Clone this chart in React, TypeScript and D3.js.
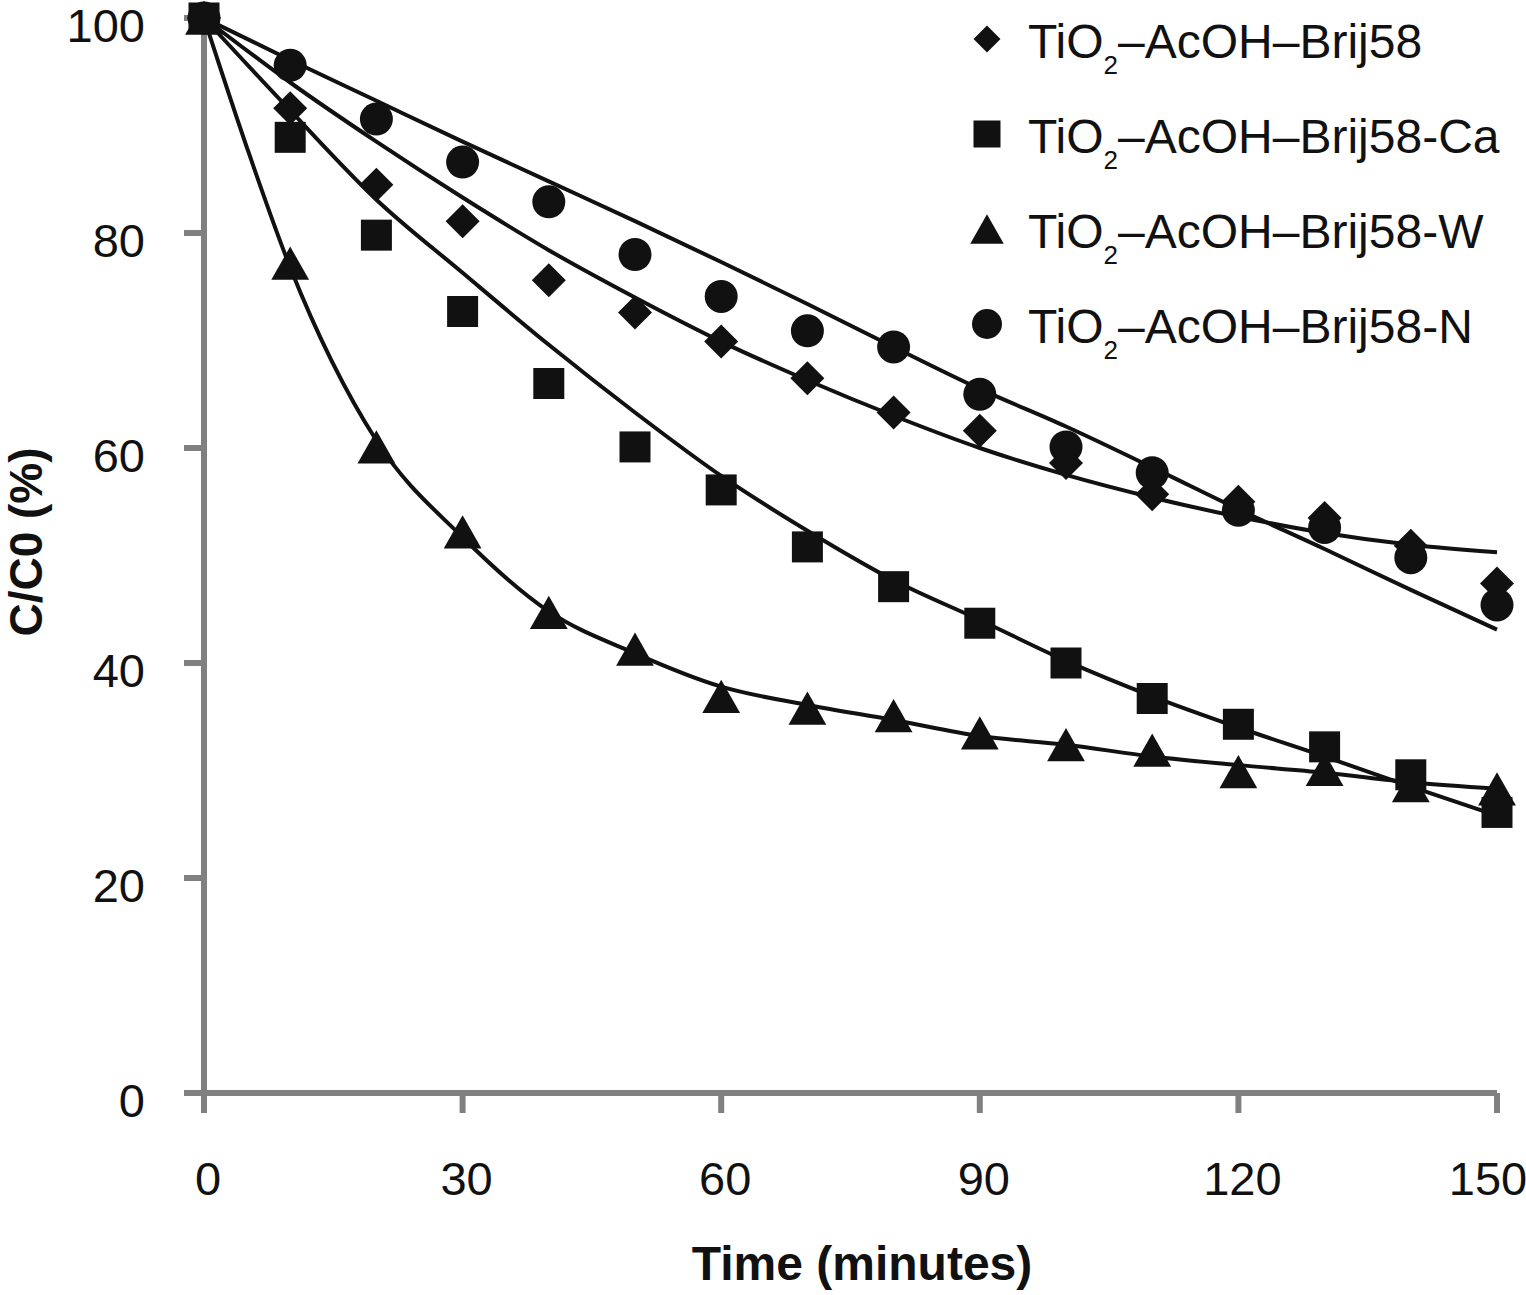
import React, { useRef, useEffect } from 'react';
import * as d3 from 'd3';

// measured points (time in minutes, C/C0 in %)
const times = [0, 10, 20, 30, 40, 50, 60, 70, 80, 90, 100, 110, 120, 130, 140, 150];
const brij58 = [100, 91.6, 84.5, 81.1, 75.6, 72.6, 69.9, 66.5, 63.3, 61.6, 58.6, 55.7, 55.0, 53.5, 50.9, 47.4];
const brij58Ca = [100, 88.9, 79.8, 72.7, 66.0, 60.1, 56.1, 50.8, 47.1, 43.7, 40.0, 36.7, 34.3, 32.2, 29.6, 26.1];
const brij58W = [100, 77.2, 60.1, 52.2, 44.7, 41.3, 36.9, 35.8, 35.1, 33.5, 32.4, 31.9, 29.9, 30.1, 28.6, 28.3];
const brij58N = [100, 95.6, 90.6, 86.6, 82.9, 78.0, 74.1, 70.9, 69.4, 65.0, 60.1, 57.7, 54.2, 52.6, 49.8, 45.4];

// trend lines
const trendTimes = [0, 10, 20, 30, 40, 50, 60, 70, 80, 90, 100, 110, 120, 130, 140, 150];
const trendBrij58 = [100, 94.0, 88.5, 83.3, 78.4, 74.0, 69.9, 66.3, 63.0, 60.0, 57.5, 55.4, 53.6, 52.1, 51.0, 50.3];
const trendCa = [100, 91.4, 83.1, 76.3, 69.6, 63.3, 57.4, 52.3, 47.7, 44.0, 40.2, 36.9, 34.0, 31.3, 28.5, 25.8];
const trendWTimes = [0, 5, 10, 20, 30, 40, 50, 60, 70, 80, 90, 100, 110, 120, 130, 140, 150];
const trendW = [100, 87.9, 76.8, 60.7, 51.7, 44.8, 40.9, 37.8, 36.1, 34.7, 33.2, 32.4, 31.3, 30.5, 29.8, 28.9, 28.3];
const trendN = [100, 96.1, 92.3, 88.5, 84.8, 81.1, 77.3, 73.4, 69.4, 65.5, 62.0, 58.2, 54.3, 50.6, 46.8, 43.1];

const xTicks = [0, 30, 60, 90, 120, 150];
const yTicks = [0, 20, 40, 60, 80, 100];

const legendSuffixes = ['', '-Ca', '-W', '-N'];

type Shape = 'diamond' | 'square' | 'triangle' | 'circle';

const markerPath = (shape: Shape, s: number) => {
  const h = s / 2;
  switch (shape) {
    case 'diamond':
      return `M0,${-h}L${h},0L0,${h}L${-h},0Z`;
    case 'square':
      return `M${-h},${-h}H${h}V${h}H${-h}Z`;
    case 'triangle':
      return `M0,${-h * 0.95}L${h * 1.08},${h * 0.95}L${-h * 1.08},${h * 0.95}Z`;
    default:
      return `M${-h},0A${h},${h} 0 1,0 ${h},0A${h},${h} 0 1,0 ${-h},0Z`;
  }
};

const FONT = '"Liberation Sans", Arial, Helvetica, sans-serif';
const GREY = '#808080';
const INK = '#111111';

const App: React.FC = () => {
  const svgRef = useRef<SVGSVGElement | null>(null);

  useEffect(() => {
    if (!svgRef.current) return;
    d3.select(svgRef.current).selectAll('*').remove();

    const width = 1526;
    const height = 1295;
    const svg = d3.select(svgRef.current).attr('width', width).attr('height', height);

    const x = d3.scaleLinear().domain([0, 150]).range([204, 1497]);
    const y = d3.scaleLinear().domain([0, 100]).range([1093, 18]);

    // axes (grey, excel style)
    const axis = svg.append('g').attr('stroke', GREY).attr('stroke-width', 6).attr('fill', 'none');
    axis.append('line').attr('x1', x(0)).attr('x2', x(0)).attr('y1', y(100)).attr('y2', y(0) + 20);
    axis.append('line').attr('x1', x(0) - 20).attr('x2', x(150)).attr('y1', y(0)).attr('y2', y(0));
    yTicks.forEach((t) => {
      axis.append('line').attr('x1', x(0) - 20).attr('x2', x(0)).attr('y1', y(t)).attr('y2', y(t));
    });
    xTicks.forEach((t) => {
      axis.append('line').attr('x1', x(t)).attr('x2', x(t)).attr('y1', y(0)).attr('y2', y(0) + 20);
    });

    // tick labels
    svg
      .append('g')
      .selectAll('text')
      .data(yTicks)
      .join('text')
      .attr('x', 145)
      .attr('y', (d) => y(d) + 24)
      .attr('text-anchor', 'end')
      .attr('font-family', FONT)
      .attr('font-size', 47)
      .attr('fill', INK)
      .text((d) => d);

    svg
      .append('g')
      .selectAll('text')
      .data(xTicks)
      .join('text')
      // last label is pulled in so it stays inside the frame, as in the original
      .attr('x', (d) => (d === 150 ? x(d) - 9 : x(d) + 4))
      .attr('y', 1195)
      .attr('text-anchor', 'middle')
      .attr('font-family', FONT)
      .attr('font-size', 47)
      .attr('fill', INK)
      .text((d) => d);

    // axis titles
    svg
      .append('text')
      .attr('x', 862)
      .attr('y', 1280)
      .attr('text-anchor', 'middle')
      .attr('font-family', FONT)
      .attr('font-weight', 'bold')
      .attr('font-size', 48)
      .attr('fill', INK)
      .text('Time (minutes)');

    svg
      .append('text')
      .attr('transform', 'translate(42,542) rotate(-90)')
      .attr('text-anchor', 'middle')
      .attr('font-family', FONT)
      .attr('font-weight', 'bold')
      .attr('font-size', 46)
      .attr('fill', INK)
      .text('C/C0 (%)');

    // trend lines
    const line = d3
      .line<[number, number]>()
      .x((d) => x(d[0]))
      .y((d) => y(d[1]))
      .curve(d3.curveMonotoneX);

    const trends: [number, number][][] = [
      trendTimes.map((t, i) => [t, trendBrij58[i]]),
      trendTimes.map((t, i) => [t, trendCa[i]]),
      trendWTimes.map((t, i) => [t, trendW[i]]),
      trendTimes.map((t, i) => [t, trendN[i]]),
    ];
    svg
      .append('g')
      .selectAll('path')
      .data(trends)
      .join('path')
      .attr('d', (d) => line(d))
      .attr('fill', 'none')
      .attr('stroke', INK)
      .attr('stroke-width', 4);

    // markers
    const series: { values: number[]; shape: Shape; size: number }[] = [
      { values: brij58N, shape: 'circle', size: 33 },
      { values: brij58W, shape: 'triangle', size: 35 },
      { values: brij58Ca, shape: 'square', size: 31 },
      { values: brij58, shape: 'diamond', size: 34 },
    ];
    series.forEach((s) => {
      svg
        .append('g')
        .selectAll('path')
        .data(s.values)
        .join('path')
        .attr('transform', (d, i) => `translate(${x(times[i])},${y(d)})`)
        .attr('d', markerPath(s.shape, s.size))
        .attr('fill', INK);
    });

    // legend
    const legendShapes: Shape[] = ['diamond', 'square', 'triangle', 'circle'];
    const legendSizes = [27, 27, 31, 30];
    const legend = svg.append('g').attr('transform', 'translate(987,0)');
    legendSuffixes.forEach((suffix, i) => {
      const base = 58 + i * 95;
      legend
        .append('path')
        .attr('transform', `translate(0,${base - 19})`)
        .attr('d', markerPath(legendShapes[i], legendSizes[i]))
        .attr('fill', INK);
      const t = legend
        .append('text')
        .attr('x', 41)
        .attr('y', base)
        .attr('font-family', FONT)
        .attr('font-size', 48)
        .attr('fill', INK);
      t.append('tspan').text('TiO');
      t.append('tspan').attr('font-size', 26).attr('dy', 16).text('2');
      t.append('tspan').attr('dy', -16).text(`–AcOH–Brij58${suffix}`);
    });
  }, []);

  return (
    <svg
      ref={svgRef}
      style={{ position: 'absolute', left: 0, top: 0, display: 'block', background: '#fff' }}
    ></svg>
  );
};

export default App;
